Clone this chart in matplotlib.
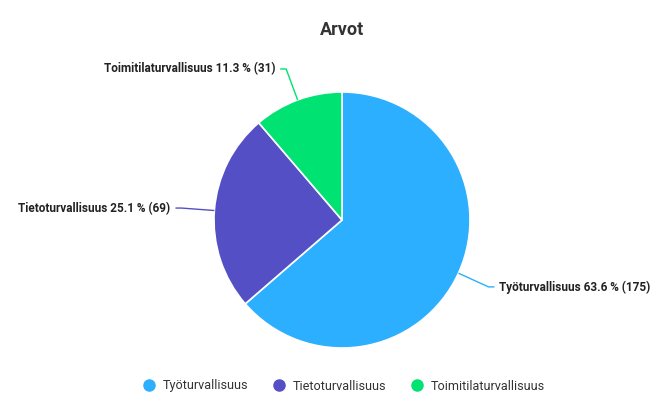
import matplotlib.pyplot as plt
import numpy as np

plt.rcParams['font.family'] = ['Roboto', 'DejaVu Sans']

# data
categories = ['Työturvallisuus', 'Tietoturvallisuus', 'Toimitilaturvallisuus']
counts = [175, 69, 31]
percents = [63.6, 25.1, 11.3]
colors = ['#2caffe', '#544fc5', '#00e272']

W, H = 670, 409
fig = plt.figure(figsize=(W / 100, H / 100), dpi=100)
ax = fig.add_axes([0, 0, 1, 1])

cx, cy, r = 342, H - 220, 128
wedges, _ = ax.pie(counts, colors=colors, startangle=90, counterclock=False,
                   center=(cx, cy), radius=r, frame=True,
                   wedgeprops=dict(edgecolor='white', linewidth=1.2))
ax.set_xlim(0, W)
ax.set_ylim(0, H)
ax.set_aspect('equal')
ax.axis('off')

# connector lines + labels
for w, cat, n, p, c in zip(wedges, categories, counts, percents, colors):
    ang = np.deg2rad((w.theta1 + w.theta2) / 2)
    x0, y0 = cx + r * np.cos(ang), cy + r * np.sin(ang)
    x1, y1 = cx + (r + 33) * np.cos(ang), cy + (r + 33) * np.sin(ang)
    side = 1 if np.cos(ang) >= 0 else -1
    x2 = x1 + side * 6
    ax.plot([x0, x1, x2], [y0, y1, y1], color=c, lw=1, solid_capstyle='butt')
    ax.text(x2 + side * 5, y1, f'{cat} {p} % ({n})',
            ha='left' if side > 0 else 'right', va='center',
            fontsize=8.5, fontweight='bold', color='#222222')

fig.text(cx / W, 1 - 30 / H, 'Arvot', ha='center', va='center',
         fontsize=13, fontweight='bold', color='#333333')

handles = [plt.Line2D([], [], marker='o', ls='', markersize=8,
                      markerfacecolor=c, markeredgecolor=c) for c in colors]
fig.legend(handles, categories, loc='center', bbox_to_anchor=(cx / W, 1 - 386 / H),
           ncol=3, frameon=False, fontsize=9.1, handletextpad=0.3,
           handlelength=1.6, columnspacing=1.6, labelcolor='#333333')

fig.savefig('out.png', dpi=100, facecolor='white')
